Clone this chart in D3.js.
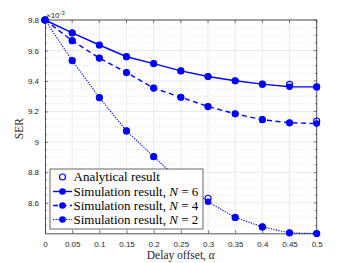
<!DOCTYPE html>
<html>
<head>
<meta charset="utf-8">
<script src="https://cdn.jsdelivr.net/npm/d3@7"></script>
<style>
  body { margin: 0; background: #fff; }
  svg { display: block; }
</style>
</head>
<body>
<div id="chart"></div>
<script>
// delay offsets and SER values (x 1e-3)
const alphas = [0, 0.05, 0.1, 0.15, 0.2, 0.25, 0.3, 0.35, 0.4, 0.45, 0.5];
const simN6 = [9.80, 9.715, 9.636, 9.559, 9.514, 9.466, 9.429, 9.401, 9.379, 9.362, 9.361];
const simN4 = [9.80, 9.664, 9.55, 9.455, 9.353, 9.293, 9.232, 9.184, 9.146, 9.125, 9.12];
const simN2 = [9.80, 9.534, 9.291, 9.072, 8.903, 8.74, 8.607, 8.504, 8.442, 8.403, 8.398];
const anaN6 = [9.80, 9.715, 9.636, 9.559, 9.514, 9.466, 9.429, 9.401, 9.379, 9.378, 9.361];
const anaN4 = [9.80, 9.664, 9.55, 9.455, 9.353, 9.293, 9.232, 9.184, 9.146, 9.125, 9.137];
const anaN2 = [9.80, 9.534, 9.291, 9.072, 8.903, 8.74, 8.63, 8.504, 8.442, 8.403, 8.398];
const xTicks = [0, 0.05, 0.1, 0.15, 0.2, 0.25, 0.3, 0.35, 0.4, 0.45, 0.5];
const yTicks = [8.6, 8.8, 9, 9.2, 9.4, 9.6, 9.8];
const legendLabels = ["Analytical result", "Simulation result, ", "Simulation result, ", "Simulation result, "];
const legendN = ["", "6", "4", "2"];

const width = 350, height = 263;
const mLeft = 45, mRight = 316.7, mTop = 20, mBottom = 233.3;
const blue = "#0000ff", axisColor = "#262626";
const tickFont = "Liberation Sans, Arial, sans-serif";
const serif = "Liberation Serif, Times New Roman, serif";

const svg = d3.select("#chart").append("svg")
  .attr("width", width).attr("height", height);

const x = d3.scaleLinear().domain([0, 0.5]).range([mLeft, mRight]);
const y = d3.scaleLinear().domain([8.4, 9.8]).range([mBottom, mTop]);

// minor y values, every 0.05 between majors
const minorY = d3.range(169, 196).map(k => k * 0.05).filter(v => !yTicks.some(t => Math.abs(t - v) < 1e-6));

// minor grid (horizontal, dotted)
svg.append("g").selectAll("line").data(minorY)
  .join("line")
  .attr("x1", mLeft).attr("x2", mRight)
  .attr("y1", d => y(d)).attr("y2", d => y(d))
  .attr("stroke", "#d0d0d0").attr("stroke-width", 0.6)
  .attr("stroke-dasharray", "1,2");

// major grid
const grid = svg.append("g").attr("stroke", "#e3e3e3").attr("stroke-width", 0.7);
grid.selectAll(".gx").data(xTicks.slice(1, -1)).join("line")
  .attr("x1", d => x(d)).attr("x2", d => x(d)).attr("y1", mTop).attr("y2", mBottom);
grid.selectAll(".gy").data(yTicks).join("line")
  .attr("x1", mLeft).attr("x2", mRight).attr("y1", d => y(d)).attr("y2", d => y(d));

// axes
const fmt = d => String(+d.toFixed(2));
const xAxis = svg.append("g").attr("transform", `translate(0,${mBottom})`)
  .call(d3.axisBottom(x).tickValues(xTicks).tickFormat(fmt).tickSizeInner(-3).tickSizeOuter(0).tickPadding(8));
const yAxis = svg.append("g").attr("transform", `translate(${mLeft},0)`)
  .call(d3.axisLeft(y).tickValues(yTicks).tickFormat(fmt).tickSizeInner(-3).tickSizeOuter(0).tickPadding(6));
[xAxis, yAxis].forEach(a => {
  a.select(".domain").attr("stroke", axisColor).attr("stroke-width", 0.8);
  a.selectAll(".tick line").attr("stroke", axisColor).attr("stroke-width", 0.6);
  a.selectAll("text").attr("fill", axisColor).style("font-family", tickFont).style("font-size", "8px");
});
// minor ticks on left and right, major ticks on right and top
svg.append("g").selectAll("line").data(minorY).join("line")
  .attr("x1", mLeft).attr("x2", mLeft + 1.8).attr("y1", d => y(d)).attr("y2", d => y(d))
  .attr("stroke", axisColor).attr("stroke-width", 0.5);
svg.append("g").selectAll("line").data(minorY).join("line")
  .attr("x1", mRight).attr("x2", mRight - 1.8).attr("y1", d => y(d)).attr("y2", d => y(d))
  .attr("stroke", axisColor).attr("stroke-width", 0.5);
svg.append("g").selectAll("line").data(yTicks).join("line")
  .attr("x1", mRight).attr("x2", mRight - 3).attr("y1", d => y(d)).attr("y2", d => y(d))
  .attr("stroke", axisColor).attr("stroke-width", 0.6);
svg.append("g").selectAll("line").data(xTicks).join("line")
  .attr("x1", d => x(d)).attr("x2", d => x(d)).attr("y1", mTop).attr("y2", mTop + 3)
  .attr("stroke", axisColor).attr("stroke-width", 0.6);
// box top and right
svg.append("path")
  .attr("d", `M${mLeft},${mTop}H${mRight}V${mBottom}`)
  .attr("fill", "none").attr("stroke", axisColor).attr("stroke-width", 0.8);

// exponent label
const exp = svg.append("text").attr("x", mLeft + 1).attr("y", 18)
  .attr("fill", axisColor).style("font-family", tickFont).style("font-size", "8px");
exp.append("tspan").text("\u00d710");
exp.append("tspan").attr("dy", -3).style("font-size", "6px").text("-3");

// axis titles
svg.append("text").attr("transform", `translate(23,${(mTop + mBottom) / 2 + 2}) rotate(-90)`)
  .attr("text-anchor", "middle").attr("fill", axisColor)
  .style("font-family", serif).style("font-size", "11.5px").text("SER");
const xl = svg.append("text").attr("x", (mLeft + mRight) / 2).attr("y", 259)
  .attr("text-anchor", "middle").attr("fill", axisColor)
  .style("font-family", serif).style("font-size", "11.5px");
xl.append("tspan").text("Delay offset, ");
xl.append("tspan").style("font-style", "italic").text("\u03b1");

// series
const series = [
  { sim: simN6, ana: anaN6, dash: null, w: 1.4 },
  { sim: simN4, ana: anaN4, dash: "5,3.5", w: 1.4 },
  { sim: simN2, ana: anaN2, dash: "1.3,1.3", w: 1.1 }
];
const line = d3.line().x((d, i) => x(alphas[i])).y(d => y(d));

const plot = svg.append("g");
series.forEach(s => {
  plot.append("g").selectAll("circle").data(s.ana).join("circle")
    .attr("cx", (d, i) => x(alphas[i])).attr("cy", d => y(d)).attr("r", 3)
    .attr("fill", "none").attr("stroke", blue).attr("stroke-width", 1.2);
});
series.forEach(s => {
  plot.append("path").datum(s.sim).attr("d", line)
    .attr("fill", "none").attr("stroke", blue).attr("stroke-width", s.w)
    .attr("stroke-dasharray", s.dash);
  plot.append("g").selectAll("circle").data(s.sim).join("circle")
    .attr("cx", (d, i) => x(alphas[i])).attr("cy", d => y(d)).attr("r", 3.3)
    .attr("fill", blue);
});

// legend
const lg = svg.append("g");
lg.append("rect").attr("x", 50).attr("y", 169).attr("width", 153).attr("height", 60)
  .attr("fill", "#fff").attr("stroke", axisColor).attr("stroke-width", 0.7);
const rowY = [177, 191.5, 205.5, 219.5];
legendLabels.forEach((lab, i) => {
  const cy = rowY[i];
  if (i === 0) {
    lg.append("circle").attr("cx", 62.5).attr("cy", cy).attr("r", 3)
      .attr("fill", "none").attr("stroke", blue).attr("stroke-width", 1.2);
  } else {
    const s = series[i - 1];
    lg.append("line").attr("x1", 53).attr("x2", 72).attr("y1", cy).attr("y2", cy)
      .attr("stroke", blue).attr("stroke-width", s.w).attr("stroke-dasharray", s.dash);
    lg.append("circle").attr("cx", 62.5).attr("cy", cy).attr("r", 3.3).attr("fill", blue);
  }
  const t = lg.append("text").attr("x", 73.5).attr("y", cy + 4)
    .attr("fill", "#000").style("font-family", serif).style("font-size", "13px");
  t.append("tspan").text(lab);
  if (legendN[i]) {
    t.append("tspan").style("font-style", "italic").text("N");
    t.append("tspan").text(" = " + legendN[i]);
  }
});
</script>
</body>
</html>
